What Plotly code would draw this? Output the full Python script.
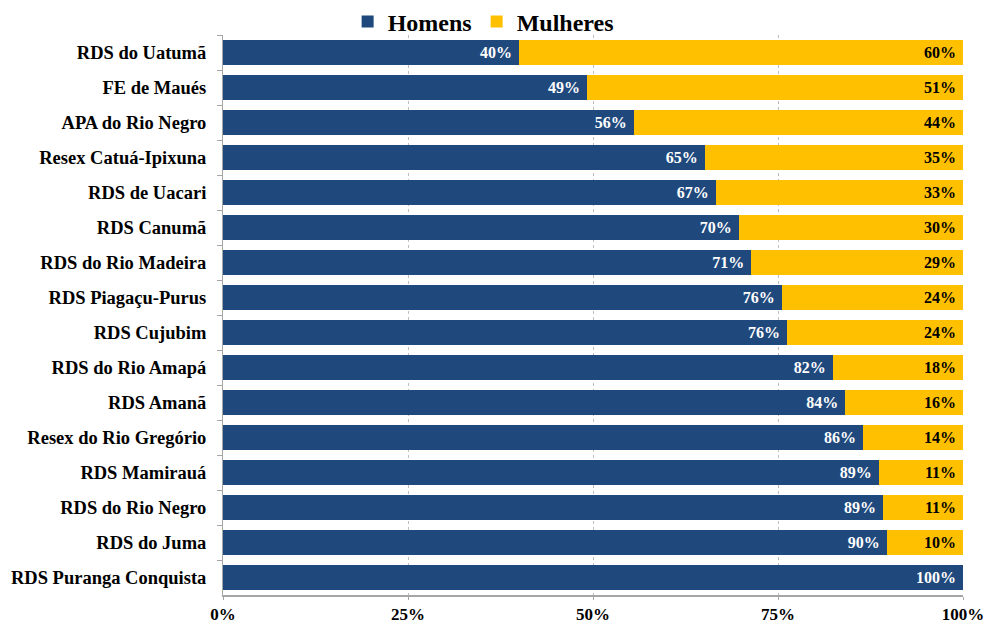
import plotly.graph_objects as go

# ── Data ─────────────────────────────────────────────────────────────────────

categories = [
    "RDS do Uatumã", "FE de Maués", "APA do Rio Negro", "Resex Catuá-Ipixuna",
    "RDS de Uacari", "RDS Canumã", "RDS do Rio Madeira", "RDS Piagaçu-Purus",
    "RDS Cujubim", "RDS do Rio Amapá", "RDS Amanã", "Resex do Rio Gregório",
    "RDS Mamirauá", "RDS do Rio Negro", "RDS do Juma", "RDS Puranga Conquista",
]
homens = [40.0, 49.2, 55.5, 65.1, 66.6, 69.7, 71.4, 75.5, 76.2, 82.4, 84.1,
          86.5, 88.6, 89.2, 89.7, 100.0]
mulheres = [60.0, 50.8, 44.5, 34.9, 33.4, 30.3, 28.6, 24.5, 23.8, 17.6, 15.9,
            13.5, 11.4, 10.8, 10.3, 0.0]
homens_labels = ["40%", "49%", "56%", "65%", "67%", "70%", "71%", "76%", "76%",
                 "82%", "84%", "86%", "89%", "89%", "90%", "100%"]
mulheres_labels = ["60%", "51%", "44%", "35%", "33%", "30%", "29%", "24%", "24%",
                   "18%", "16%", "14%", "11%", "11%", "10%", ""]
x_ticks = [0, 25, 50, 75, 100]
x_tick_labels = ["0%", "25%", "50%", "75%", "100%"]

# ── Style ────────────────────────────────────────────────────────────────────

BLUE = "#1f497d"
YELLOW = "#ffc000"
AXIS = "#a6a6a6"
FONT = "Liberation Serif"
PAD = "\u00a0"  # a little breathing room before the bar end


def _labels(values):
    return [f"<b>{v}</b>{PAD}" if v else "" for v in values]


fig = go.Figure()
fig.add_trace(go.Bar(
    y=categories, x=homens, name="Homens", orientation="h",
    marker=dict(color=BLUE, line=dict(width=0)),
    text=_labels(homens_labels), textposition="inside", insidetextanchor="end",
    insidetextfont=dict(family=FONT, size=16, color="white"),
    constraintext="none", hoverinfo="x+y",
))
fig.add_trace(go.Bar(
    y=categories, x=mulheres, name="Mulheres", orientation="h",
    marker=dict(color=YELLOW, line=dict(width=0)),
    text=_labels(mulheres_labels), textposition="inside", insidetextanchor="end",
    insidetextfont=dict(family=FONT, size=16, color="black"),
    constraintext="none", hoverinfo="x+y",
))

fig.update_layout(
    barmode="stack", bargap=0.31,
    width=988, height=624,
    margin=dict(l=223, r=25, t=35, b=29, autoexpand=False),
    plot_bgcolor="white", paper_bgcolor="white",
    font=dict(family=FONT, color="black", weight="bold"),
    uniformtext=dict(minsize=16, mode="show"),
    legend=dict(
        orientation="h", xref="container", x=0.489, xanchor="center",
        yref="container", y=0.965, yanchor="middle",
        font=dict(family=FONT, size=24, weight="bold"),
        bgcolor="rgba(0,0,0,0)",
        itemwidth=30, traceorder="normal",
    ),
)
fig.update_xaxes(
    range=[0, 100], tickvals=x_ticks, ticktext=x_tick_labels,
    tickfont=dict(family=FONT, size=17, weight="bold"),
    showgrid=True, gridcolor="#bfbfbf", griddash="dot", gridwidth=1,
    showline=True, linecolor=AXIS, linewidth=2,
    ticks="outside", ticklen=3, tickcolor=AXIS,
    zeroline=False,
)
fig.update_yaxes(
    autorange="reversed", type="category",
    tickfont=dict(family=FONT, size=18.5, weight="bold"),
    showline=True, linecolor=AXIS, linewidth=1,
    ticks="outside", ticklen=5, tickcolor=AXIS, tickson="boundaries",
    ticklabelstandoff=12,
)

fig.write_html(
    "out.html",
    config={"displayModeBar": False},
    post_script="document.body.style.margin='0';",
)
